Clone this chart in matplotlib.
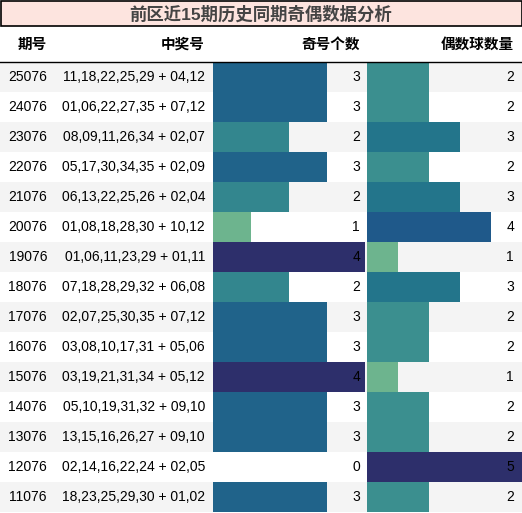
import matplotlib.pyplot as plt
import numpy as np
from matplotlib.colors import LinearSegmentedColormap

plt.rcParams['font.family'] = ['Liberation Sans', 'Noto Sans CJK SC', 'DejaVu Sans']

title = "前区近15期历史同期奇偶数据分析"
headers = ["期号", "中奖号", "奇号个数", "偶数球数量"]
issues = ["25076", "24076", "23076", "22076", "21076", "20076", "19076", "18076",
          "17076", "16076", "15076", "14076", "13076", "12076", "11076"]
numbers = ["11,18,22,25,29 + 04,12", "01,06,22,27,35 + 07,12", "08,09,11,26,34 + 02,07",
           "05,17,30,34,35 + 02,09", "06,13,22,25,26 + 02,04", "01,08,18,28,30 + 10,12",
           "01,06,11,23,29 + 01,11", "07,18,28,29,32 + 06,08", "02,07,25,30,35 + 07,12",
           "03,08,10,17,31 + 05,06", "03,19,21,31,34 + 05,12", "05,10,19,31,32 + 09,10",
           "13,15,16,26,27 + 09,10", "02,14,16,22,24 + 02,05", "18,23,25,29,30 + 01,02"]
odd_count = [3, 3, 2, 3, 2, 1, 4, 2, 3, 3, 4, 3, 3, 0, 3]
even_count = [2, 2, 3, 2, 3, 4, 1, 3, 2, 2, 1, 2, 2, 5, 2]

cmap = LinearSegmentedColormap.from_list(
    "crestish", ["#6db48e", "#3b8f8f", "#23758b", "#1f5a8a", "#2d2f6b"])

W, H = 522, 513
fig = plt.figure(figsize=(W / 100, H / 100), dpi=100)
ax = fig.add_axes([0, 0, 1, 1])
ax.set_xlim(0, W)
ax.set_ylim(H, 0)
ax.axis("off")

# title bar
ax.add_patch(plt.Rectangle((0.5, 0.5), W - 1, 25.5, facecolor="#fde4df",
                           edgecolor="black", lw=1.2))
ax.text(W / 2, 13.5, title, ha="center", va="center", fontsize=12.5,
        fontweight="bold", color="#444444")

# header
hy = 45
for x, t in zip([47, 205, 360, 514], headers):
    ax.text(x, hy, t, ha="right", va="center", fontsize=10.5, fontweight="bold")
ax.plot([0, W], [61.5, 61.5], color="black", lw=1)

top, rh = 62, 30
y = top + rh * np.arange(len(issues)) + rh / 2
for i, yy in enumerate(y):
    if i % 2 == 0:
        ax.add_patch(plt.Rectangle((0, yy - rh / 2), W, rh, facecolor="#f4f4f4", lw=0))

odd_x0, odd_unit = 213, 38
even_x0, even_unit = 367, 31
odd_n = [(v - 1) / (max(odd_count) - 1) for v in odd_count]
even_n = [(v - 1) / (max(even_count) - 1) for v in even_count]
ax.barh(y, np.array(odd_count) * odd_unit, left=odd_x0, height=rh,
        color=[cmap(max(c, 0)) for c in odd_n])
ax.barh(y, np.array(even_count) * even_unit, left=even_x0, height=rh,
        color=[cmap(max(c, 0)) for c in even_n])

for yy, iss, num, o, e in zip(y, issues, numbers, odd_count, even_count):
    ax.text(47, yy, iss, ha="right", va="center", fontsize=10)
    ax.text(205, yy, num, ha="right", va="center", fontsize=10)
    ax.text(360, yy, str(o), ha="right", va="center", fontsize=10)
    ax.text(514, yy, str(e), ha="right", va="center", fontsize=10)

fig.savefig("out.png", dpi=100)
